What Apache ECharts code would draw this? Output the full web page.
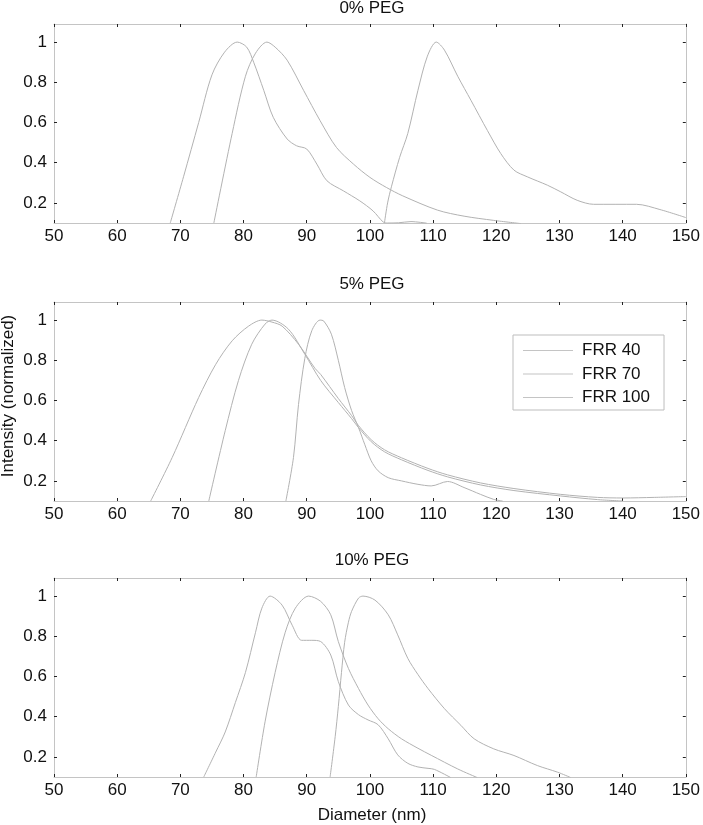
<!DOCTYPE html>
<html>
<head>
<meta charset="utf-8">
<script src="https://cdn.jsdelivr.net/npm/echarts@6/dist/echarts.min.js"></script>
<style>
html,body{margin:0;padding:0;background:#fff;}
#chart{width:703px;height:825px;}
</style>
</head>
<body>
<div id="chart"></div>
<script>
// ---- data (Diameter nm, normalized intensity) ----
const panelTitles = ['0% PEG', '5% PEG', '10% PEG'];
const seriesNames = ['FRR 40', 'FRR 70', 'FRR 100'];
const xTicks = [50, 60, 70, 80, 90, 100, 110, 120, 130, 140, 150];
const yTicks = [0.2, 0.4, 0.6, 0.8, 1];

const peg0_frr40 = [[68.4,0.1],[70.5,0.33],[72.9,0.60],[75,0.837],[77,0.95],[79,1.0],[80.5,0.975],[81.6,0.90],[83.2,0.76],[84.7,0.626],[86.9,0.518],[88.4,0.484],[90,0.468],[91.6,0.393],[93.2,0.31],[95.8,0.26],[98.4,0.21],[100.5,0.16],[102.1,0.105],[102.8,0.1],[104.5,0.101],[106.5,0.107],[109,0.099]];
const peg0_frr70 = [[75.3,0.1],[78.2,0.546],[80.3,0.83],[81.9,0.945],[83.7,1.0],[85,0.975],[86.9,0.91],[89.5,0.76],[92.1,0.61],[94.7,0.476],[97.4,0.393],[100,0.327],[102.6,0.277],[105.2,0.235],[110.7,0.164],[114.9,0.134],[119.6,0.113],[123.9,0.097]];
const peg0_frr100 = [[102.3,0.1],[102.8,0.2],[103.4,0.28],[104.7,0.426],[106,0.546],[107.6,0.76],[109.1,0.93],[110.5,1.0],[111.8,0.96],[113.9,0.83],[116,0.71],[118.6,0.56],[120.7,0.446],[122.8,0.363],[124.9,0.33],[128.1,0.288],[130.2,0.255],[132.8,0.213],[135.4,0.193],[142.2,0.193],[145.9,0.167],[150,0.127]];

const peg5_frr40 = [[65.3,0.1],[68.7,0.316],[72.9,0.615],[75.6,0.78],[78.2,0.897],[80.8,0.97],[82.9,1.0],[84.5,0.99],[86.1,0.97],[88.7,0.88],[91.3,0.76],[92.2,0.73],[95,0.61],[97.1,0.525],[98.2,0.475],[100.2,0.405],[102.3,0.355],[105,0.315],[109.2,0.262],[112.3,0.23],[117.5,0.19],[122.8,0.162],[130.2,0.133],[136,0.118],[140,0.115],[145,0.118],[150,0.122]];
const peg5_frr70 = [[74.5,0.1],[77.1,0.45],[79.2,0.70],[81.3,0.88],[83.4,0.98],[84.5,1.0],[87.1,0.955],[89.7,0.83],[92.2,0.70],[95,0.59],[97.1,0.51],[98.2,0.465],[100.2,0.395],[102.3,0.345],[105,0.305],[109.2,0.252],[112.3,0.22],[117.5,0.18],[122.8,0.152],[130.2,0.125],[136,0.107],[140,0.1]];
const peg5_frr100 = [[86.7,0.1],[87.9,0.316],[88.7,0.58],[89.7,0.81],[90.8,0.947],[92.1,1.0],[92.7,0.995],[93.9,0.93],[95,0.80],[96,0.665],[97.1,0.55],[98.2,0.465],[99.2,0.38],[100.2,0.30],[101.3,0.25],[102.9,0.216],[105,0.20],[107.6,0.183],[109.7,0.175],[112.3,0.197],[114.9,0.167],[117.5,0.133],[119.6,0.108],[121,0.1]];

const peg10_frr40 = [[73.7,0.1],[75.6,0.224],[77.1,0.324],[78.7,0.47],[80.3,0.62],[81.9,0.82],[82.9,0.94],[84.2,1.0],[86.1,0.955],[87.7,0.855],[89.2,0.78],[90.8,0.78],[92.2,0.774],[93.8,0.707],[95,0.575],[96.6,0.458],[98.2,0.41],[99.7,0.384],[101.3,0.36],[102.9,0.29],[104.4,0.21],[106,0.168],[107.6,0.15],[109.2,0.143],[110.2,0.138],[112.8,0.097]];
const peg10_frr70 = [[82,0.1],[83.4,0.374],[85,0.62],[86.6,0.82],[88.2,0.94],[90.3,1.0],[92.2,0.974],[93.8,0.907],[95,0.774],[96.6,0.64],[98.2,0.54],[99.7,0.458],[101.3,0.39],[102.9,0.34],[105,0.29],[107.6,0.243],[109.7,0.208],[113.9,0.14],[117,0.097]];
const peg10_frr100 = [[93.7,0.1],[94.5,0.3],[95,0.45],[95.5,0.62],[96,0.77],[96.6,0.87],[97.1,0.924],[98.2,0.99],[98.9,1.0],[100.8,0.98],[102.9,0.907],[104.4,0.807],[106,0.69],[107.6,0.61],[109.2,0.54],[111.8,0.44],[114.4,0.357],[116.5,0.29],[119.6,0.24],[122.8,0.207],[126.5,0.157],[129.7,0.124],[131.8,0.097]];

const panelData = [
  [peg0_frr40, peg0_frr70, peg0_frr100],
  [peg5_frr40, peg5_frr70, peg5_frr100],
  [peg10_frr40, peg10_frr70, peg10_frr100]
];

// ---- layout / style ----
const FONT = '"Liberation Sans", Arial, sans-serif';
const gridTops = [24, 302, 578];
const gridH = 199;
const frameColor = '#c4c4c4';
const tickColor = '#222';
const lineColor = '#b2b2b2';

const grids = [], xAxes = [], yAxes = [], series = [];
gridTops.forEach((top, g) => {
  grids.push({ left: 54, right: 13, top: top, height: gridH, containLabel: false });
  const baseX = {
    type: 'value', gridIndex: g, min: 50, max: 150, interval: 10,
    axisLine: { show: true, onZero: false, lineStyle: { color: frameColor, width: 1 } },
    axisTick: { show: true, inside: true, length: 3, lineStyle: { color: tickColor } },
    splitLine: { show: false }
  };
  xAxes.push(Object.assign({}, baseX, {
    position: 'bottom',
    axisLabel: { show: true, fontSize: 17, color: '#111', fontFamily: FONT, margin: 5,
      customValues: xTicks }
  }));
  xAxes.push(Object.assign({}, baseX, { position: 'top', axisLabel: { show: false } }));
  const baseY = {
    type: 'value', gridIndex: g, min: 0.1, max: 1.09,
    axisLine: { show: true, onZero: false, lineStyle: { color: frameColor, width: 1 } },
    axisTick: { show: true, inside: true, length: 3, lineStyle: { color: tickColor }, customValues: yTicks },
    splitLine: { show: false }
  };
  yAxes.push(Object.assign({}, baseY, {
    position: 'left',
    axisLabel: { show: true, fontSize: 17, color: '#111', fontFamily: FONT, margin: 7,
      customValues: yTicks, formatter: v => String(+v.toFixed(1)) }
  }));
  yAxes.push(Object.assign({}, baseY, { position: 'right', axisLabel: { show: false } }));

  panelData[g].forEach((d, i) => {
    series.push({
      type: 'line', name: seriesNames[i], data: d,
      xAxisIndex: g * 2, yAxisIndex: g * 2,
      symbol: 'none', smooth: 0.3, clip: true,
      lineStyle: { color: lineColor, width: 1 },
      itemStyle: { color: lineColor },
      emphasis: { disabled: true }
    });
  });
});

const textEl = (txt, x, y, rot) => ({
  type: 'text', x: x, y: y, rotation: rot || 0,
  style: { text: txt, font: '17px ' + FONT, fill: '#111', align: 'center', verticalAlign: 'middle' }
});

const option = {
  animation: false,
  backgroundColor: '#fff',
  grid: grids,
  xAxis: xAxes,
  yAxis: yAxes,
  legend: {
    data: seriesNames, orient: 'vertical', left: 513, top: 335,
    icon: 'path://M0,0L50,0L50,1L0,1Z',
    itemWidth: 50, itemHeight: 1, itemGap: 4.5,
    padding: [6, 14, 3, 10],
    borderColor: '#bdbdbd', borderWidth: 1,
    itemStyle: { color: '#c4c4c4', borderWidth: 0 },
    textStyle: { fontSize: 17, lineHeight: 19, color: '#111', fontFamily: FONT, padding: [0, 0, 0, 4] },
    selectedMode: false
  },
  graphic: [
    textEl(panelTitles[0], 372, 8),
    textEl(panelTitles[1], 372, 284),
    textEl(panelTitles[2], 372, 560),
    textEl('Intensity (normalized)', 8, 396, Math.PI / 2),
    textEl('Diameter (nm)', 372, 815)
  ],
  series: series
};

const chart = echarts.init(document.getElementById('chart'), null, { renderer: 'canvas' });
chart.setOption(option);
</script>
</body>
</html>
